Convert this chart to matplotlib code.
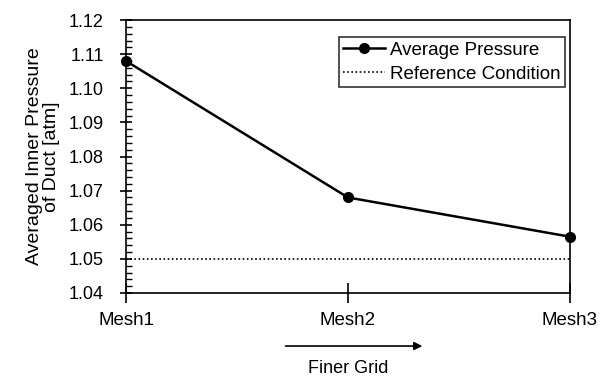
import matplotlib
matplotlib.use('Agg')
import matplotlib.pyplot as plt
from matplotlib.ticker import MultipleLocator

plt.rcParams['font.family'] = ['Liberation Sans', 'DejaVu Sans']

# data
meshes = ['Mesh1', 'Mesh2', 'Mesh3']
avg_pressure = [1.108, 1.068, 1.0565]
reference_pressure = 1.05

fig = plt.figure(figsize=(6.03, 3.79), dpi=100)
ax = fig.add_axes([0.209, 0.227, 0.736, 0.72])

x = list(range(len(meshes)))
ax.plot(x, avg_pressure, color='black', linewidth=1.8, marker='o', markersize=7,
        label='Average Pressure', clip_on=False, zorder=3)
ax.axhline(reference_pressure, color='black', linestyle=(0, (1, 1.5)), linewidth=1.2,
           label='Reference Condition')

ax.set_xlim(0, len(meshes) - 1)
ax.set_ylim(1.04, 1.12)
ax.set_xticks(x)
ax.set_xticklabels(meshes)
ax.yaxis.set_major_locator(MultipleLocator(0.01))
ax.yaxis.set_minor_locator(MultipleLocator(0.002))
ax.yaxis.set_major_formatter(plt.FormatStrFormatter('%.2f'))

ax.tick_params(axis='y', which='major', direction='inout', length=8, width=1.2,
               labelsize=13, pad=12)
ax.tick_params(axis='y', which='minor', direction='in', length=4, width=1)
ax.tick_params(axis='x', which='major', direction='inout', length=14, width=1.2,
               labelsize=13.5, pad=7)
for s in ax.spines.values():
    s.set_linewidth(1.2)

ax.set_ylabel('Averaged Inner Pressure\nof Duct [atm]', fontsize=14, labelpad=6,
              linespacing=1.05)

leg = ax.legend(loc='upper right', bbox_to_anchor=(0.989, 0.938), borderaxespad=0,
                fontsize=13.5, frameon=True, fancybox=False, edgecolor='black',
                borderpad=0.25, handlelength=2.2, handletextpad=0.27, labelspacing=0.35)
leg.get_frame().set_linewidth(1.2)

# arrow and caption under the axis
fig.add_artist(plt.Annotation('', xy=(0.705, 0.087), xytext=(0.469, 0.087),
                              xycoords='figure fraction',
                              arrowprops=dict(arrowstyle='-|>', color='black', lw=1.2,
                                              mutation_scale=12)))
fig.text(0.577, 0.029, 'Finer Grid', ha='center', va='center', fontsize=13)

plt.savefig('out.png', dpi=100)
plt.close()
